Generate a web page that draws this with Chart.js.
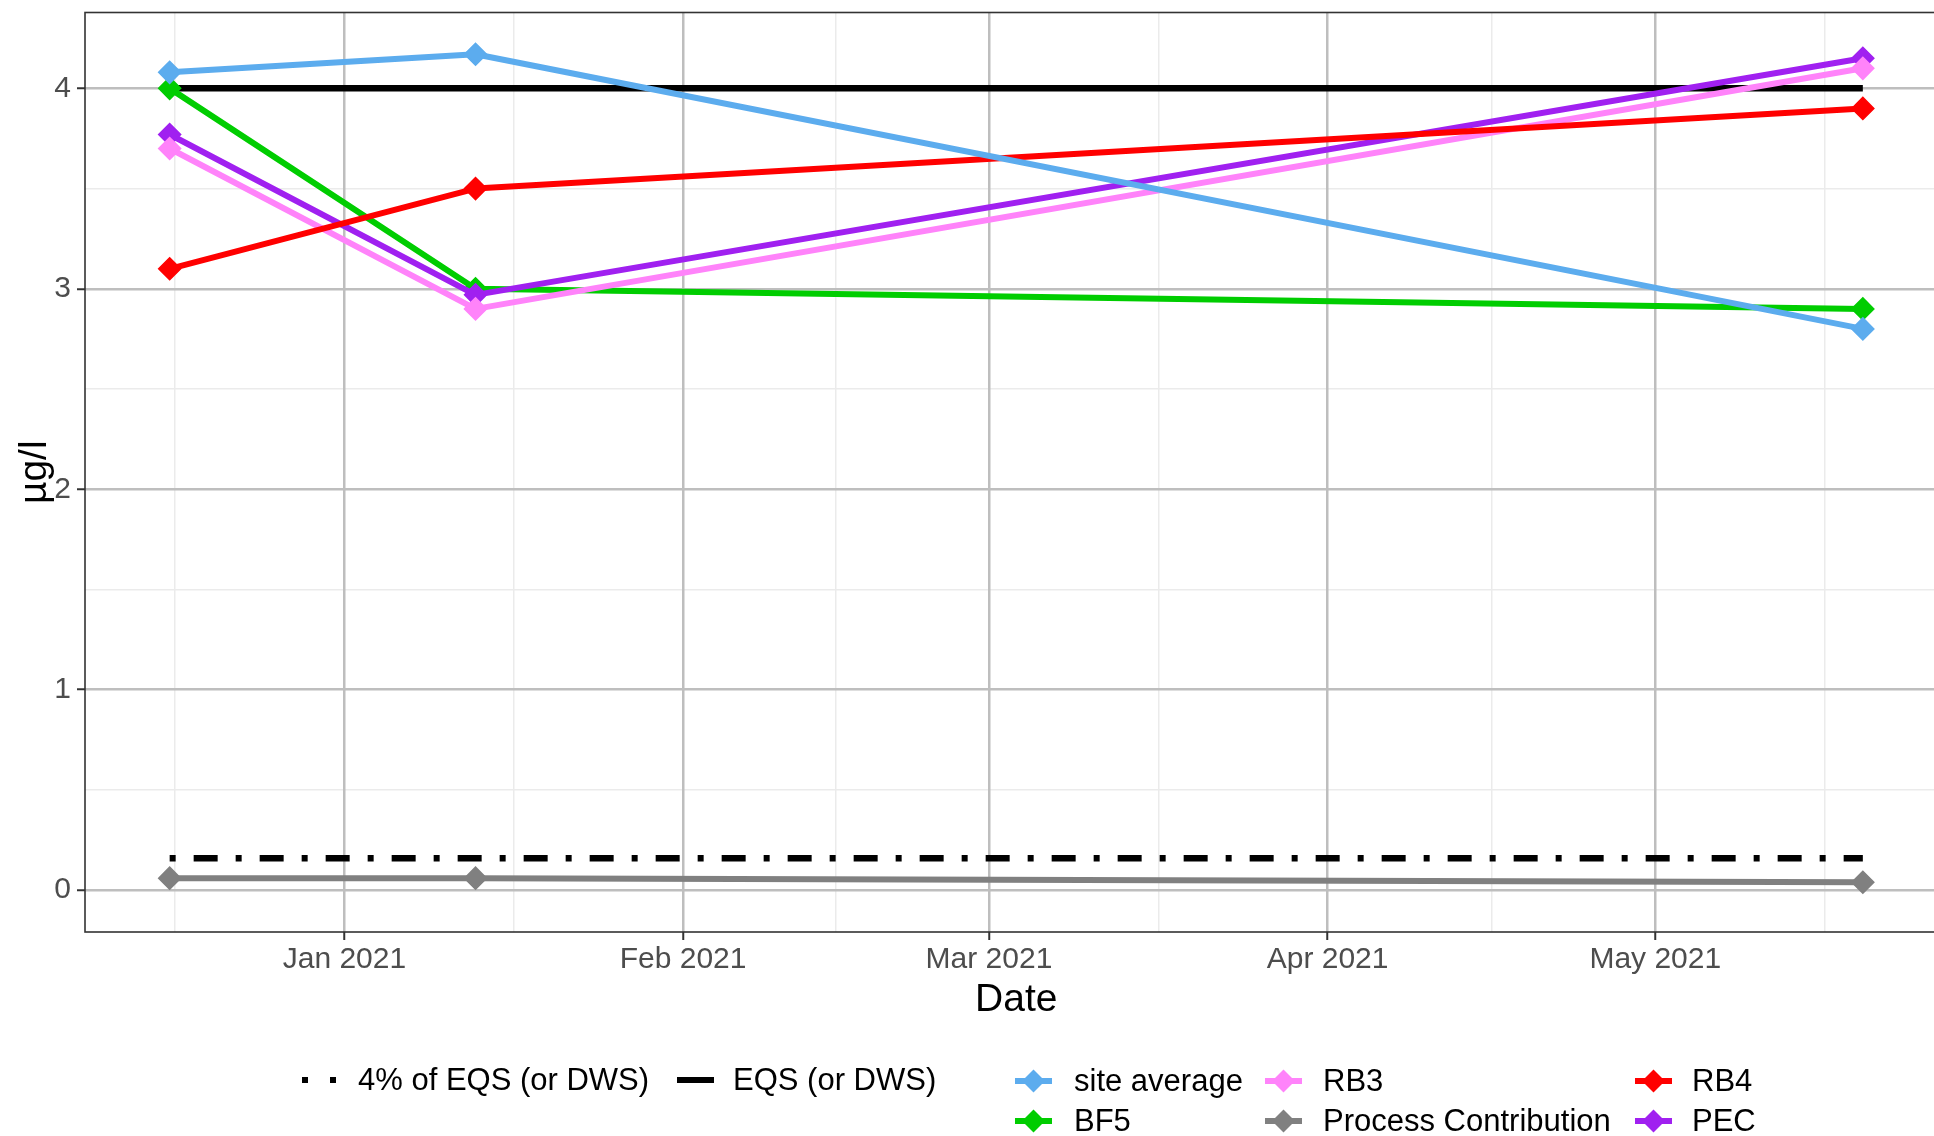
<!DOCTYPE html>
<html>
<head>
<meta charset="utf-8">
<title>Concentration over time</title>
<script src="https://cdn.jsdelivr.net/npm/chart.js@4.4.0/dist/chart.umd.min.js"></script>
<style>
  html, body { margin: 0; padding: 0; background: #ffffff; overflow: hidden; width: 1934px; height: 1136px; }
  #wrap { position: relative; width: 1934px; height: 1136px; overflow: hidden; }
  #chart { position: absolute; left: 0; top: 0; }
  .key { position: absolute; }
  .lbl { position: absolute; font-family: "Liberation Sans", Arial, sans-serif; font-size: 31px; color: #000; white-space: nowrap; line-height: 40px; height: 40px; }
</style>
</head>
<body>
<div id="wrap">
  <canvas id="chart" width="1960" height="1136"></canvas>
  <div id="legend"></div>
</div>
<script>
// Sampling dates and measured concentrations (µg/l)
const dates = ["2020-12-16", "2021-01-13", "2021-05-20"];
const siteAverage = [4.08, 4.17, 2.80];
const bf5 = [4.00, 3.00, 2.90];
const rb3 = [3.70, 2.90, 4.10];
const rb4 = [3.10, 3.50, 3.90];
const processContribution = [0.06, 0.06, 0.04];
const pec = [3.77, 2.97, 4.15];

// Reference levels
const eqsLevel = 4.0;
const eqs4pctLevel = 0.16;

// Axis breaks and labels
const monthBreaks = ["2021-01-01", "2021-02-01", "2021-03-01", "2021-04-01", "2021-05-01"];
const monthLabels = ["Jan 2021", "Feb 2021", "Mar 2021", "Apr 2021", "May 2021"];
const monthEdges = ["2020-12-01", "2021-01-01", "2021-02-01", "2021-03-01", "2021-04-01", "2021-05-01", "2021-06-01"];
const yTicks = [0, 1, 2, 3, 4];
const yMinorTicks = [0.5, 1.5, 2.5, 3.5];
const yLimitLow = 0;

const seriesColors = {
  "site average": "#5CACEE",
  "BF5": "#00CD00",
  "RB3": "#FF83FA",
  "Process Contribution": "#808080",
  "RB4": "#FF0000",
  "PEC": "#A020F0"
};

function dayNum(s) {
  const [y, m, d] = s.split("-").map(Number);
  return Date.UTC(y, m - 1, d) / 86400000;
}

const xs = dates.map(dayNum);
const xSpan = xs[xs.length - 1] - xs[0];
const xMin = xs[0] - 0.05 * xSpan;
const xMax = xs[xs.length - 1] + 0.05 * xSpan;

const allY = [].concat(siteAverage, bf5, rb3, rb4, processContribution, pec, [eqsLevel, eqs4pctLevel, yLimitLow]);
const yLo = Math.min(...allY), yHi = Math.max(...allY);
const yMin = yLo - 0.05 * (yHi - yLo);
const yMax = yHi + 0.05 * (yHi - yLo);

const xMajor = monthBreaks.map(dayNum);
const edgeDays = monthEdges.map(dayNum);
const xMinor = [];
for (let i = 0; i < edgeDays.length - 1; i++) xMinor.push((edgeDays[i] + edgeDays[i + 1]) / 2);

function pts(values) {
  return values.map((v, i) => ({ x: xs[i], y: v }));
}

function series(label, values, order) {
  const c = seriesColors[label];
  return {
    label, data: pts(values), order,
    borderColor: c, backgroundColor: c,
    borderWidth: 6, borderJoinStyle: "round", borderCapStyle: "butt",
    pointStyle: "rectRot", pointRadius: 11, pointBorderWidth: 1.5,
    pointBorderColor: c, pointBackgroundColor: c, tension: 0
  };
}

const levelLine = (label, level, dash, order) => ({
  label, order,
  data: [{ x: xs[0], y: level }, { x: xs[xs.length - 1], y: level }],
  borderColor: "#000000", borderWidth: 6.5, borderDash: dash, borderCapStyle: "butt",
  pointRadius: 0, tension: 0
});

const datasets = [
  series("site average", siteAverage, 1),
  series("RB4", rb4, 2),
  series("RB3", rb3, 3),
  series("Process Contribution", processContribution, 4),
  series("PEC", pec, 5),
  series("BF5", bf5, 6),
  levelLine("EQS (or DWS)", eqsLevel, [], 7),
  levelLine("4% of EQS (or DWS)", eqs4pctLevel, [6, 18, 24, 18], 8)
];

const tickFont = { family: "'Liberation Sans', Arial, sans-serif", size: 30 };
const titleFont = { family: "'Liberation Sans', Arial, sans-serif", size: 39 };

const panelBorder = {
  id: "panelBorder",
  afterDraw(chart) {
    const { ctx, chartArea: a } = chart;
    ctx.save();
    ctx.strokeStyle = "#333333";
    ctx.lineWidth = 1.6;
    ctx.strokeRect(a.left, a.top, a.right - a.left, a.bottom - a.top);
    ctx.restore();
  }
};

function noEdgePadding(s) {
  s.paddingTop = 0; s.paddingBottom = 0; s.paddingLeft = 0; s.paddingRight = 0;
}

new Chart(document.getElementById("chart"), {
  type: "line",
  data: { datasets },
  plugins: [panelBorder],
  options: {
    responsive: false,
    animation: false,
    devicePixelRatio: 1,
    events: [],
    layout: { padding: { left: 0, top: 12, right: 10, bottom: 110 } },
    plugins: { legend: { display: false }, tooltip: { enabled: false } },
    scales: {
      x: {
        type: "linear", position: "bottom", min: xMin, max: xMax,
        afterBuildTicks: s => { s.ticks = xMajor.map(v => ({ value: v })); },
        afterFit: s => { s.height = 94; noEdgePadding(s); },
        ticks: { autoSkip: false, maxRotation: 0, font: tickFont, color: "#4D4D4D", padding: 2,
                 callback: (v, i) => monthLabels[i] },
        grid: { color: "#BEBEBE", lineWidth: 2.5, tickColor: "#333333", tickLength: 8, tickWidth: 2, z: -1 },
        border: { display: false },
        title: { display: true, text: "Date", font: titleFont, color: "#000000", padding: { top: 0, bottom: 2 } }
      },
      xMinor: {
        type: "linear", position: "bottom", min: xMin, max: xMax,
        afterBuildTicks: s => { s.ticks = xMinor.map(v => ({ value: v })); },
        afterFit: s => { s.height = 0; noEdgePadding(s); },
        ticks: { display: false },
        grid: { color: "#EBEBEB", lineWidth: 1.5, drawTicks: false, z: -2 },
        border: { display: false }
      },
      y: {
        type: "linear", position: "left", min: yMin, max: yMax,
        afterBuildTicks: s => { s.ticks = yTicks.map(v => ({ value: v })); },
        afterFit: s => { s.width = 85; noEdgePadding(s); },
        ticks: { font: tickFont, color: "#4D4D4D", padding: 6, callback: v => String(v) },
        grid: { color: "#BEBEBE", lineWidth: 2.5, tickColor: "#333333", tickLength: 8, tickWidth: 2, z: -1 },
        border: { display: false },
        title: { display: true, text: "µg/l", font: titleFont, color: "#000000", padding: { top: 12, bottom: 0 } }
      },
      yMinor: {
        type: "linear", position: "left", min: yMin, max: yMax,
        afterBuildTicks: s => { s.ticks = yMinorTicks.map(v => ({ value: v })); },
        afterFit: s => { s.width = 0; noEdgePadding(s); },
        ticks: { display: false },
        grid: { color: "#EBEBEB", lineWidth: 1.5, drawTicks: false, z: -2 },
        border: { display: false }
      }
    }
  }
});

// Legend below the panel: line types on the left, series colours in three columns
const legendEl = document.getElementById("legend");
function addKey(left, cy, svgInner) {
  const d = document.createElement("div");
  d.className = "key";
  d.style.left = left + "px";
  d.style.top = (cy - 20) + "px";
  d.innerHTML = '<svg width="40" height="40" xmlns="http://www.w3.org/2000/svg">' + svgInner + '</svg>';
  legendEl.appendChild(d);
}
function addText(left, cy, text) {
  const s = document.createElement("div");
  s.className = "lbl";
  s.style.left = left + "px";
  s.style.top = (cy - 20) + "px";
  s.textContent = text;
  legendEl.appendChild(s);
}
function diamondKey(color) {
  return '<line x1="0" y1="20" x2="37" y2="20" stroke="' + color + '" stroke-width="6"/>' +
         '<polygon points="18.5,8.5 30,20 18.5,31.5 7,20" fill="' + color + '"/>';
}

addKey(302, 1080, '<line x1="0" y1="20" x2="37" y2="20" stroke="#000" stroke-width="6" stroke-dasharray="6 22"/>');
addText(358, 1080, "4% of EQS (or DWS)");
addKey(677, 1080, '<line x1="0" y1="20" x2="37" y2="20" stroke="#000" stroke-width="6"/>');
addText(733, 1080, "EQS (or DWS)");

const legendCols = [
  { key: 1015, text: 1074, items: ["site average", "BF5"] },
  { key: 1265, text: 1323, items: ["RB3", "Process Contribution"] },
  { key: 1635, text: 1692, items: ["RB4", "PEC"] }
];
const rowCenters = [1081, 1121];
legendCols.forEach(col => {
  col.items.forEach((name, r) => {
    addKey(col.key, rowCenters[r], diamondKey(seriesColors[name]));
    addText(col.text, rowCenters[r], name);
  });
});
</script>
</body>
</html>
